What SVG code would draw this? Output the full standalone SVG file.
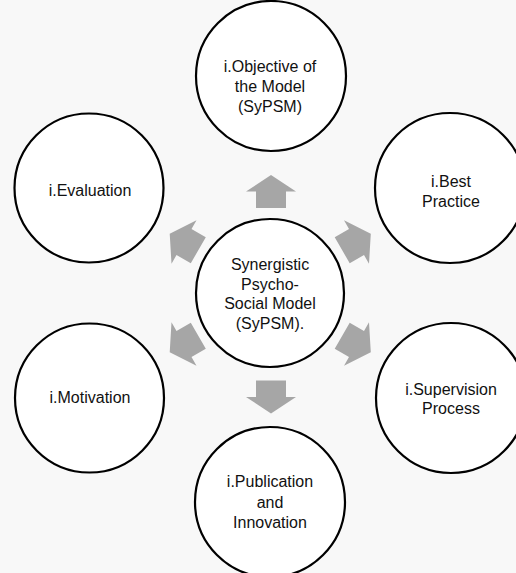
<svg xmlns="http://www.w3.org/2000/svg" width="516" height="573" viewBox="0 0 516 573">
<style>
.node circle{fill:#ffffff;stroke:#000000;stroke-width:2.2}
.node text{font-family:"Liberation Sans",Arial,sans-serif;font-size:16px;fill:#111111;text-anchor:middle}
.arrow{fill:#a6a6a6}
</style>
<defs>
<polygon id="blk" points="-16.5,-15 0,-15 0,-25 16.5,0 0,25 0,15 -16.5,15"/>
</defs>
<rect width="516" height="573" fill="#f8f8f8"/>
<g id="connectors">
<use href="#blk" class="arrow" transform="translate(271,191.5) rotate(-90)"/>
<use href="#blk" class="arrow" transform="translate(271,397) rotate(90)"/>
<use href="#blk" class="arrow" transform="translate(356.5,242) rotate(-30)"/>
<use href="#blk" class="arrow" transform="translate(356.5,344) rotate(30)"/>
<use href="#blk" class="arrow" transform="translate(184,242) rotate(-150)"/>
<use href="#blk" class="arrow" transform="translate(184,344) rotate(150)"/>
</g>
<g id="center" class="node">
<circle cx="270" cy="293" r="74"/>
<text x="270" y="270">Synergistic</text>
<text x="270" y="289.5">Psycho-</text>
<text x="270" y="309">Social Model</text>
<text x="270" y="328.5">(SyPSM).</text>
</g>
<g id="objective" class="node">
<circle cx="271" cy="76" r="75"/>
<text x="270" y="72">i.Objective of</text>
<text x="270" y="92">the Model</text>
<text x="270" y="112">(SyPSM)</text>
</g>
<g id="best-practice" class="node">
<circle cx="450" cy="188" r="75"/>
<text x="451" y="187">i.Best</text>
<text x="451" y="207">Practice</text>
</g>
<g id="supervision" class="node">
<circle cx="451" cy="398" r="75"/>
<text x="451" y="395">i.Supervision</text>
<text x="451" y="414">Process</text>
</g>
<g id="publication" class="node">
<circle cx="270" cy="502" r="75"/>
<text x="270" y="487">i.Publication</text>
<text x="270" y="507.5">and</text>
<text x="270" y="528">Innovation</text>
</g>
<g id="motivation" class="node">
<circle cx="89.5" cy="398" r="74.5"/>
<text x="90" y="403">i.Motivation</text>
</g>
<g id="evaluation" class="node">
<circle cx="89" cy="188" r="74.5"/>
<text x="90" y="196">i.Evaluation</text>
</g>
</svg>
